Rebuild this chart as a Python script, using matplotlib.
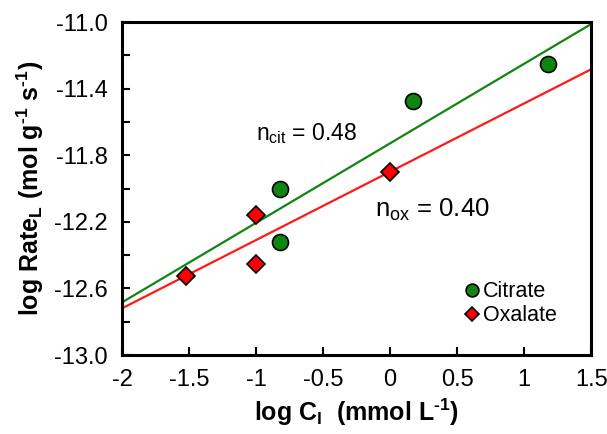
import matplotlib
matplotlib.use("Agg")
import matplotlib.pyplot as plt
import numpy as np
from matplotlib.ticker import MultipleLocator, FixedLocator, FormatStrFormatter, FuncFormatter

plt.rcParams['font.family'] = ['Liberation Sans', 'DejaVu Sans']
plt.rcParams['mathtext.default'] = 'regular'

# data
cit_x = [1.177, 0.174, -0.82, -0.82]
cit_y = [-11.25, -11.475, -12.005, -12.32]
ox_x = [-1.52, -1.0, -1.0, 0.0]
ox_y = [-12.525, -12.16, -12.455, -11.90]
y_labels = [-13.0, -12.6, -12.2, -11.8, -11.4, -11.0]

green = '#118511'
red = '#ff1a1a'

fig = plt.figure(figsize=(6.07, 4.34), dpi=100)
ax = fig.add_axes([0.201, 0.182, 0.773, 0.767])

# fitted lines
xx = np.array([-2.0, 1.5])
p_cit = np.polyfit(cit_x, cit_y, 1)
p_ox = np.polyfit(ox_x, ox_y, 1)
ax.plot(xx, np.polyval(p_cit, xx), color=green, lw=1.6, zorder=2)
ax.plot(xx, np.polyval(p_ox, xx), color=red, lw=1.6, zorder=2)

ax.plot(cit_x, cit_y, 'o', color=green, mec='black', mew=1.2, ms=11.5, zorder=3, label='Citrate')
ax.plot(ox_x, ox_y, 'D', color='#ff0000', mec='black', mew=1.2, ms=9, zorder=3, label='Oxalate')

ax.set_xlim(-2, 1.5)
ax.set_ylim(-13, -11)
ax.xaxis.set_major_locator(MultipleLocator(0.5))
ax.xaxis.set_major_formatter(FuncFormatter(lambda v, p: '%g' % v))
ax.yaxis.set_major_locator(FixedLocator(y_labels))
ax.yaxis.set_minor_locator(MultipleLocator(0.2))
ax.yaxis.set_major_formatter(FormatStrFormatter('%.1f'))
ax.tick_params(which='both', direction='in', length=6, width=1.5, labelsize=17, pad=10)
ax.tick_params(axis='x', which='both', top=False)
ax.tick_params(axis='y', which='both', right=False)
for s in ax.spines.values():
    s.set_linewidth(2.2)

ax.set_xlabel('log C$_l$  (mmol L$^{\u20101}$)', fontsize=18, fontweight='bold', labelpad=4)
ax.set_ylabel('log Rate$_L$ (mol g$^{\u20101}$ s$^{\u20101}$)', fontsize=18, fontweight='bold', labelpad=6)

ax.text(-1.0, -11.71, r'n$_{cit}$ = 0.48', fontsize=16.5)
ax.text(-0.11, -12.17, r'n$_{ox}$ = 0.40', fontsize=18.5)

ax.legend(loc='lower right', bbox_to_anchor=(0.945, 0.06), frameon=False, fontsize=15.5,
          handletextpad=0.0, borderaxespad=0.0, labelspacing=0.15, markerscale=0.8,
          handlelength=1.0)

fig.savefig('out.png', dpi=100)
